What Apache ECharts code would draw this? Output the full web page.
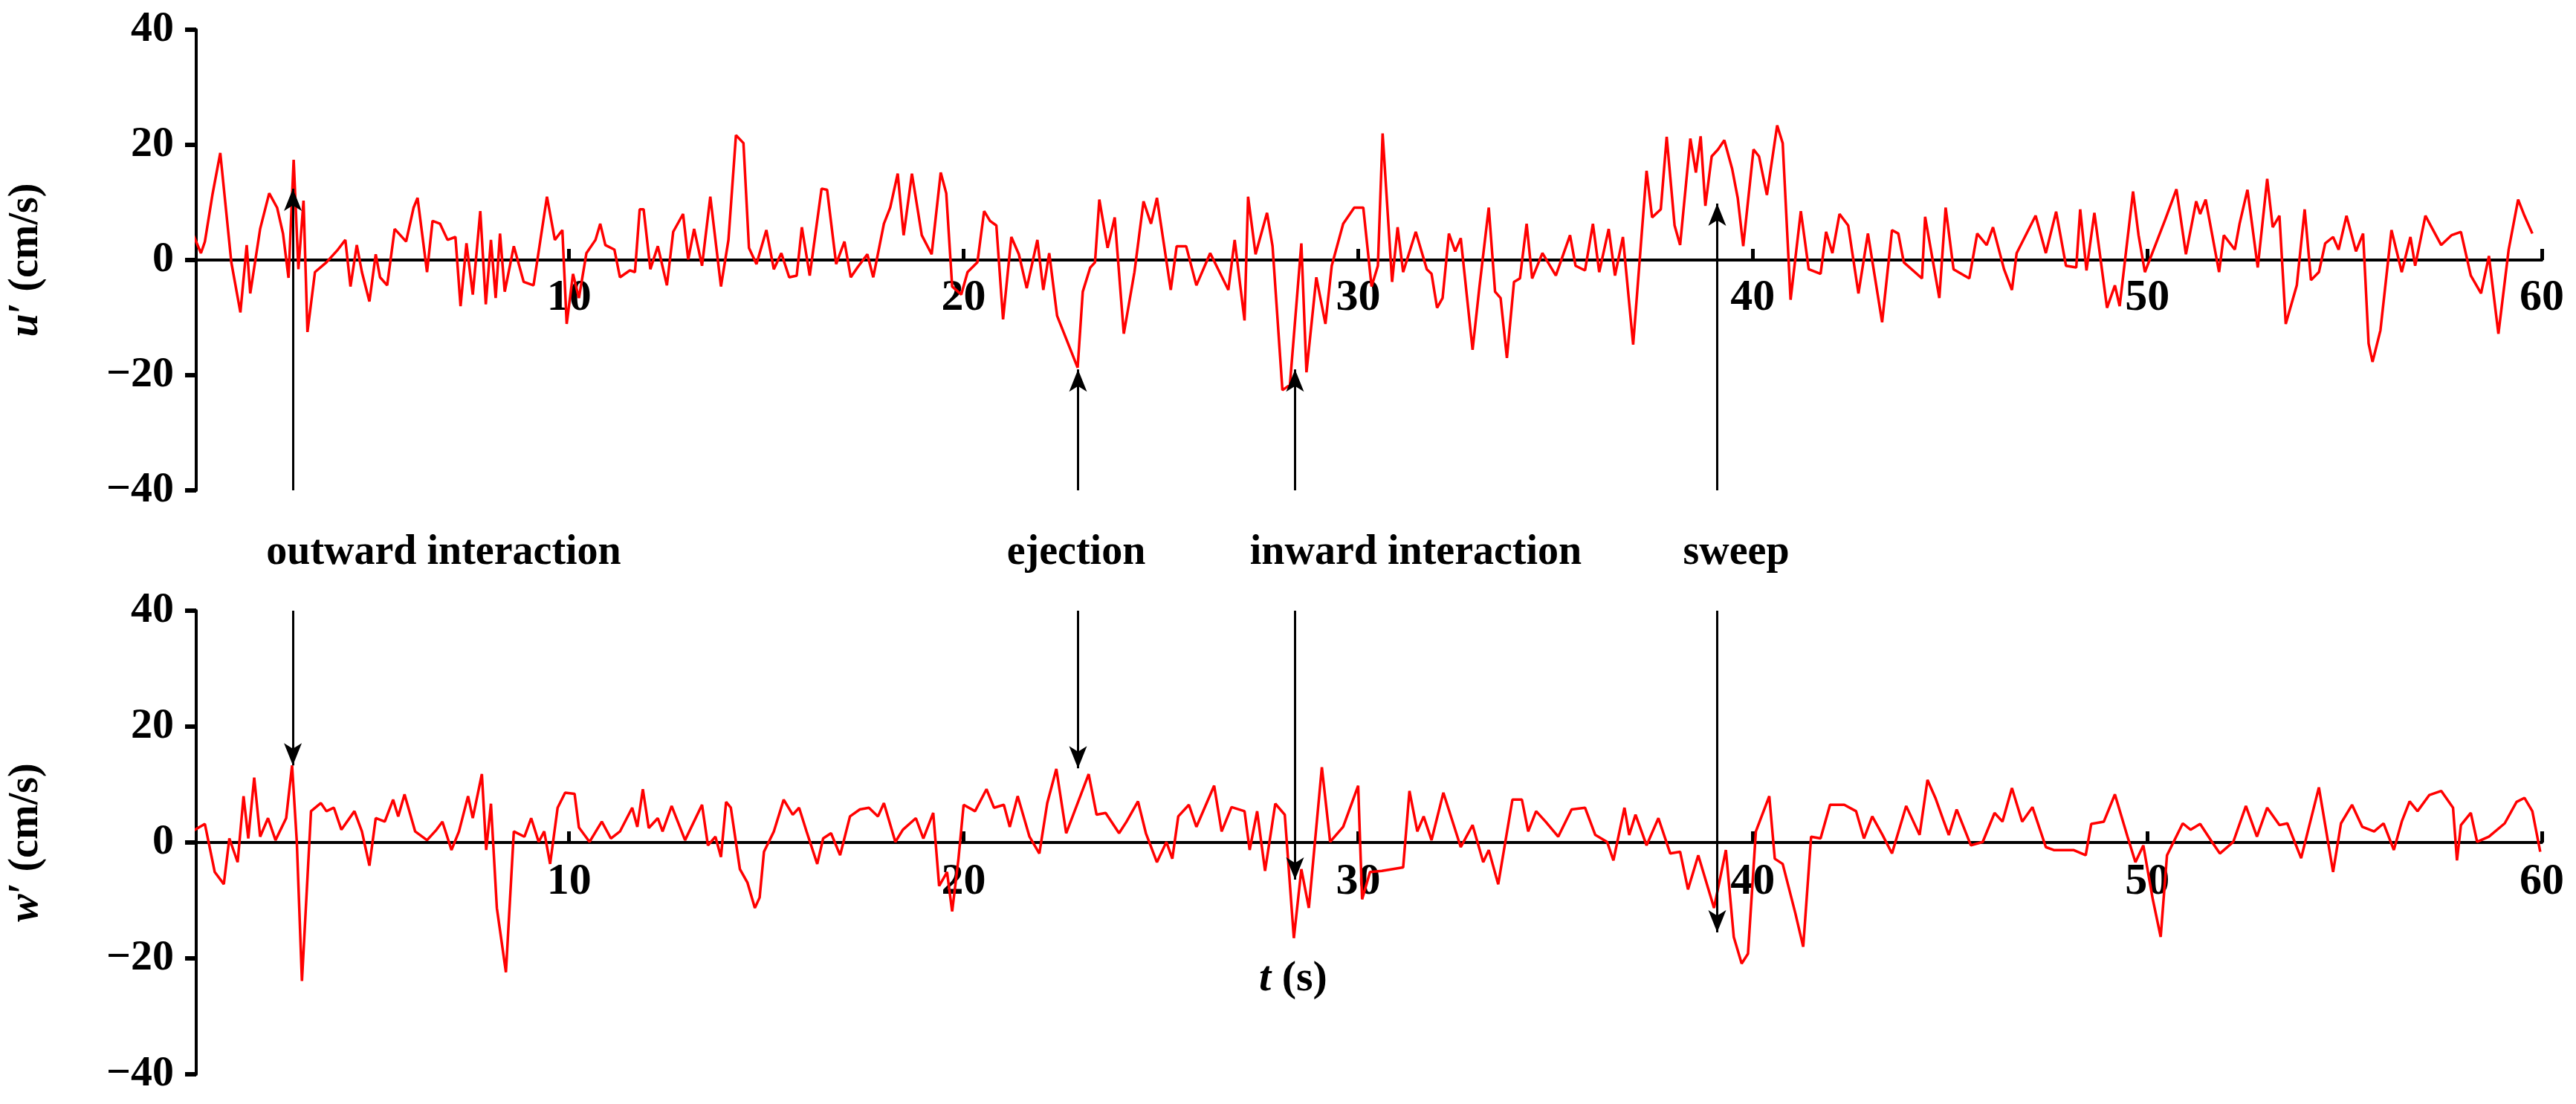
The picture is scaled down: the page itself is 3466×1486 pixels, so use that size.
<!DOCTYPE html>
<html><head><meta charset="utf-8">
<script src="https://cdn.jsdelivr.net/npm/echarts@6/dist/echarts.min.js"></script>
<style>html,body{margin:0;padding:0;background:#fff}#c{width:3466px;height:1486px}</style>
</head><body><div id="c"></div>
<script>
const uTime=[0.3,0.48,0.67,0.77,0.96,1.16,1.44,1.67,1.83,1.92,2.17,2.4,2.6,2.75,2.89,3.02,3.14,3.27,3.37,3.56,3.85,4.14,4.33,4.46,4.62,4.75,4.94,5.1,5.21,5.39,5.58,5.87,6.06,6.16,6.4,6.54,6.73,6.92,7.12,7.25,7.4,7.56,7.75,7.89,8.02,8.14,8.25,8.37,8.6,8.85,9.1,9.44,9.64,9.83,9.94,10.1,10.25,10.44,10.67,10.79,10.92,11.15,11.29,11.54,11.67,11.79,11.89,12.06,12.25,12.48,12.64,12.89,13.02,13.17,13.37,13.58,13.85,14.04,14.23,14.42,14.56,14.75,15,15.19,15.38,15.58,15.77,15.9,16.1,16.4,16.54,16.77,16.98,17.14,17.31,17.56,17.71,17.98,18.14,18.33,18.48,18.69,18.94,19.19,19.42,19.56,19.71,19.94,20.1,20.35,20.52,20.67,20.83,21,21.21,21.4,21.6,21.87,22.02,22.17,22.37,22.89,23.02,23.21,23.33,23.44,23.65,23.83,24.06,24.33,24.56,24.75,24.9,25.25,25.4,25.64,25.9,26.25,26.71,26.87,27.12,27.21,27.4,27.69,27.83,28.08,28.27,28.56,28.69,28.94,29.17,29.33,29.62,29.9,30.13,30.34,30.5,30.62,30.86,31,31.14,31.46,31.74,31.86,32,32.14,32.3,32.46,32.6,32.9,33.07,33.31,33.47,33.61,33.77,33.95,34.1,34.27,34.41,34.67,35.01,35.37,35.51,35.75,35.95,36.11,36.35,36.51,36.71,36.97,37.31,37.45,37.67,37.82,38.02,38.16,38.42,38.56,38.68,38.8,38.96,39.12,39.28,39.48,39.62,39.76,40.02,40.16,40.36,40.62,40.76,40.96,41.22,41.42,41.72,41.86,42.02,42.2,42.42,42.68,42.92,43.28,43.53,43.69,43.83,44.29,44.37,44.73,44.89,45.09,45.49,45.69,45.93,46.09,46.37,46.57,46.69,47.17,47.43,47.69,47.94,48.2,48.3,48.46,48.66,48.98,49.18,49.3,49.64,49.78,49.94,50.46,50.74,50.98,51.24,51.34,51.48,51.82,51.94,52.22,52.34,52.54,52.8,53.04,53.18,53.35,53.51,53.79,53.99,54.15,54.35,54.51,54.71,54.85,55.05,55.29,55.47,55.61,55.71,55.91,56.19,56.45,56.67,56.79,57.05,57.45,57.71,57.95,58.2,58.46,58.66,58.9,59.16,59.4,59.56,59.76];
const uVal=[-6.6,4.3,1.2,3.2,11.3,18.6,-0.4,-9.1,2.6,-5.8,5.4,11.6,9.1,4.6,-3.1,17.4,-1.6,10.3,-12.5,-2.1,-0.4,1.8,3.5,-4.6,2.6,-2.1,-7.2,1,-3,-4.4,5.4,3.2,9.1,10.8,-2.1,6.8,6.3,3.5,4,-8,2.9,-6,8.5,-7.7,3.5,-6.6,4.6,-5.5,2.4,-3.8,-4.4,11,3.5,5.2,-11.1,-2.4,-6.6,1.2,3.5,6.3,2.6,1.8,-3,-1.8,-2.1,8.8,8.8,-1.6,2.4,-4.4,4.9,8,0.1,5.4,-1,11,-4.6,3.5,21.7,20.3,2.1,-0.7,5.2,-1.6,1.2,-3,-2.7,5.7,-2.7,12.4,12.2,-0.7,3.2,-3,-1.3,1,-3,6.3,9.1,15,4.3,15,4.3,1,15.2,11.6,-4.6,-6,-2.1,-0.4,8.5,6.8,6,-10.3,4,1,-4.9,3.5,-5.2,1.2,-9.7,-18.7,-5.5,-1.3,-0.4,10.5,2.1,7.4,-12.8,-2.1,10.2,6.3,10.8,-5.2,2.4,2.4,-4.4,1.2,-5.2,3.5,-10.5,11,1,8.2,2.4,-22.6,-21.7,2.9,-19.5,-3,-11.1,-1,6.3,9.1,9.1,-4.6,-1,22,-3.8,5.7,-2.1,4.9,-1.6,-2.4,-8.3,-6.6,4.6,1.5,3.8,-15.6,-4.9,9.1,-5.5,-6.6,-17,-3.8,-3.2,6.3,-3.2,1.2,-2.7,4.3,-1,-1.8,6.3,-2.1,5.4,-2.7,4,-14.7,15.5,7.4,8.8,21.4,6,2.6,21.1,15.2,21.5,9.4,18,19.2,20.8,15.8,10.8,2.4,19.2,18,11.3,23.4,20.3,-6.9,8.5,-1.6,-2.4,4.9,1.2,8,6,-5.8,4.6,-10.8,5.2,4.6,-0.4,-3.2,7.5,-6.6,9.1,-1.6,-3.2,4.6,2.6,5.7,-1.6,-5.2,1.2,7.7,1.2,8.4,-1,-1.3,8.8,-1.8,8.2,-8.3,-4.4,-8,11.9,4.3,-2.1,7.1,12.3,1,10.2,8,10.5,-2.1,4.3,1.8,6.3,12.2,-1.3,14.1,5.7,7.7,-11.1,-4.4,8.8,-3.5,-2.1,2.9,4,1.8,7.7,1.5,4.6,-14.5,-17.7,-12.2,5.2,-2.1,4,-1,7.7,2.6,4.3,4.9,-2.7,-5.8,0.7,-12.8,1.8,10.5,7.7,4.6];
const wTime=[0.29,0.44,0.77,1.02,1.25,1.39,1.6,1.75,1.87,2.02,2.17,2.37,2.56,2.83,2.98,3.1,3.23,3.46,3.71,3.85,4.04,4.23,4.56,4.75,4.94,5.1,5.33,5.54,5.67,5.83,6.1,6.4,6.64,6.79,7.02,7.21,7.44,7.56,7.79,7.9,8.02,8.17,8.4,8.6,8.87,9.04,9.23,9.37,9.52,9.71,9.9,10.14,10.25,10.52,10.83,11.06,11.29,11.6,11.73,11.87,12.02,12.25,12.37,12.6,12.94,13.37,13.52,13.71,13.85,13.98,14.1,14.33,14.52,14.71,14.83,14.94,15.19,15.44,15.67,15.83,16.02,16.29,16.44,16.64,16.87,17.12,17.37,17.6,17.83,17.98,18.27,18.46,18.79,18.98,19.23,19.38,19.58,19.71,19.87,20,20.29,20.58,20.77,21.02,21.17,21.37,21.67,21.92,22.12,22.35,22.6,23.17,23.37,23.6,23.94,24.13,24.42,24.62,24.9,25.14,25.29,25.44,25.71,25.9,26.35,26.54,26.79,27.12,27.25,27.44,27.64,27.9,28.14,28.37,28.56,28.75,29.08,29.29,29.62,30,30.1,30.3,30.6,31.14,31.3,31.5,31.66,31.86,32.16,32.6,32.9,33.17,33.31,33.55,33.91,34.15,34.31,34.51,34.75,35.07,35.41,35.75,36.01,36.31,36.47,36.75,36.87,37.03,37.31,37.61,37.91,38.16,38.36,38.62,39.02,39.32,39.52,39.72,39.88,40.08,40.42,40.56,40.76,41.08,41.28,41.48,41.72,41.96,42.32,42.62,42.82,43.03,43.29,43.53,43.89,44.23,44.43,44.63,44.83,44.97,45.17,45.53,45.83,46.13,46.33,46.57,46.83,47.09,47.43,47.63,48.13,48.44,48.58,48.9,49.18,49.5,49.7,49.9,50.14,50.34,50.5,50.9,51.1,51.34,51.64,51.84,52.18,52.5,52.78,53.04,53.35,53.55,53.9,54.35,54.71,54.91,55.19,55.45,55.75,55.99,56.25,56.45,56.65,56.85,57.15,57.45,57.75,57.85,57.95,58.2,58.36,58.66,59.06,59.36,59.56,59.76,59.96];
const wVal=[10.9,1.9,3.2,-5.1,-7.2,0.7,-3.4,8,0.7,11.2,1,4.2,0.4,4.2,13.3,0.1,-23.9,5.4,6.8,5.4,6,2.2,5.4,1.9,-4,4.2,3.6,7.4,4.5,8.3,1.9,0.4,2.2,3.6,-1.3,1.9,8,4.2,11.8,-1.3,6.7,-11.3,-22.4,1.9,1,4.2,0.1,1.9,-3.7,6,8.6,8.4,2.6,0.1,3.6,0.7,1.9,6,2.7,9.2,2.5,4.2,1.9,6.3,0.4,6.5,-0.5,1,-2.5,7,6,-4.6,-6.9,-11.3,-9.5,-1.6,1.9,7.4,4.8,6,1.9,-3.7,0.7,1.6,-2.2,4.5,5.7,6,4.5,6.8,0.1,2.2,4.2,0.7,5.1,-7.5,-5.1,-11.9,-2.8,6.5,5.4,9.2,6,6.5,2.7,8,1,-1.9,6.8,12.7,1.6,11.8,4.8,5.1,1.6,3.6,7.1,1.6,-3.4,0.1,-2.8,4.5,6.5,2.7,9.8,1.9,6.1,5.4,-1.3,5.4,-4.9,6.7,4.8,-16.5,-4.6,-11.3,13,0.1,2.7,9.8,-9.8,-5.1,-4.9,-4.3,8.9,1.9,4.5,0.4,8.6,-0.8,3,-3.4,-1.3,-7.2,7.4,7.4,1.9,5.4,3.6,1,5.7,6,1.3,0.1,-3.1,6,1.3,4.8,-0.5,4.2,-1.9,-1.6,-8.1,-2.2,-11.3,-1.3,-16.3,-20.9,-19.2,1.9,8,-2.8,-3.7,-12.2,-18,1,0.7,6.5,6.5,5.4,0.7,4.5,1.3,-1.9,6.3,1.3,10.8,7.7,3.9,1.3,5.7,-0.5,0.1,5.1,3.6,9.4,3.6,6.1,-0.8,-1.3,-1.3,-2.2,3.2,3.6,8.3,1,-3.4,-0.5,-9.8,-16.3,-2.2,3.3,2.2,3.2,0.1,-1.9,0.1,6.3,1,6,3,3.3,-2.7,9.5,-5.1,3.3,6.5,2.7,1.9,3.3,-1.3,3.6,7.1,5.4,8.2,8.9,6,-3.1,3,5.1,0.1,1,3.3,7,7.7,5.4,-1.6];
const xTicks=[10,20,30,40,50,60];
const yTicks=[-40,-20,0,20,40];
const eventNames=['outward interaction','ejection','inward interaction','sweep'];
const eventTime=[3.0,22.9,28.4,39.1];
const eventTipU=[12.4,-19,-19,9.8];
const eventTipW=[13.3,12.8,-6.4,-15.5];

const font='Liberation Serif';
const uData=uTime.map((t,i)=>[t,uVal[i]]);
const wData=wTime.map((t,i)=>[t,wVal[i]]);
function xAxis(idx){return {type:'value',gridIndex:idx,min:0.55,max:60,
  axisLine:{onZero:true,lineStyle:{color:'#000',width:4}},
  axisTick:{inside:true,length:15,lineStyle:{color:'#000',width:5},customValues:xTicks},
  axisLabel:{customValues:xTicks,margin:-289,color:'#000',fontFamily:font,fontWeight:'bold',fontSize:60},
  splitLine:{show:false}};}
function yAxis(idx,name){return {type:'value',gridIndex:idx,min:-40,max:40,interval:20,
  axisLine:{show:true,onZero:false,lineStyle:{color:'#000',width:4}},
  axisTick:{show:true,length:15,lineStyle:{color:'#000',width:6}},
  axisLabel:{margin:30,color:'#000',fontFamily:font,fontWeight:'bold',fontSize:58,formatter:v=>v<0?'\u2212'+(-v):''+v},
  splitLine:{show:false},
  name:'{i|'+name+'}{n|\u2032 (cm/s)}',nameLocation:'middle',nameGap:200,nameRotate:90,
  nameTextStyle:{rich:{i:{fontFamily:font,fontWeight:'bold',fontStyle:'italic',fontSize:56,color:'#000'},n:{fontFamily:font,fontWeight:'bold',fontSize:56,color:'#000'}}}};}
function arrows(from,tips){return {silent:true,symbol:['none','arrow'],symbolSize:[18,30],animation:false,
  label:{show:false},lineStyle:{color:'#000',width:3,type:'solid'},
  data:eventTime.map((t,i)=>[{coord:[t,from]},{coord:[t,tips[i]]}])};}
const labelX=[597,1448,1905,2336];
const chart=echarts.init(document.getElementById('c'));
chart.setOption({animation:false,backgroundColor:'#fff',
  grid:[{left:263,right:46,top:40,height:620},{left:263,right:46,top:822,height:624}],
  xAxis:[xAxis(0),xAxis(1)],
  yAxis:[yAxis(0,'u'),yAxis(1,'w')],
  series:[
    {type:'line',xAxisIndex:0,yAxisIndex:0,data:uData,showSymbol:false,lineStyle:{color:'#ff0000',width:3.5},markLine:arrows(-40,eventTipU)},
    {type:'line',xAxisIndex:1,yAxisIndex:1,data:wData,showSymbol:false,lineStyle:{color:'#ff0000',width:3.5},markLine:arrows(40,eventTipW)}
  ],
  graphic:[
    ...eventNames.map((n,i)=>({type:'text',x:labelX[i],y:745,style:{text:n,fontFamily:font,fontWeight:'bold',fontSize:56,fill:'#000',align:'center',verticalAlign:'middle'}})),
    {type:'text',x:1740,y:1318,style:{text:'{i|t}{n| (s)}',align:'center',verticalAlign:'middle',rich:{i:{fontFamily:font,fontWeight:'bold',fontStyle:'italic',fontSize:58,fill:'#000'},n:{fontFamily:font,fontWeight:'bold',fontSize:58,fill:'#000'}}}}
  ]
});
</script></body></html>
